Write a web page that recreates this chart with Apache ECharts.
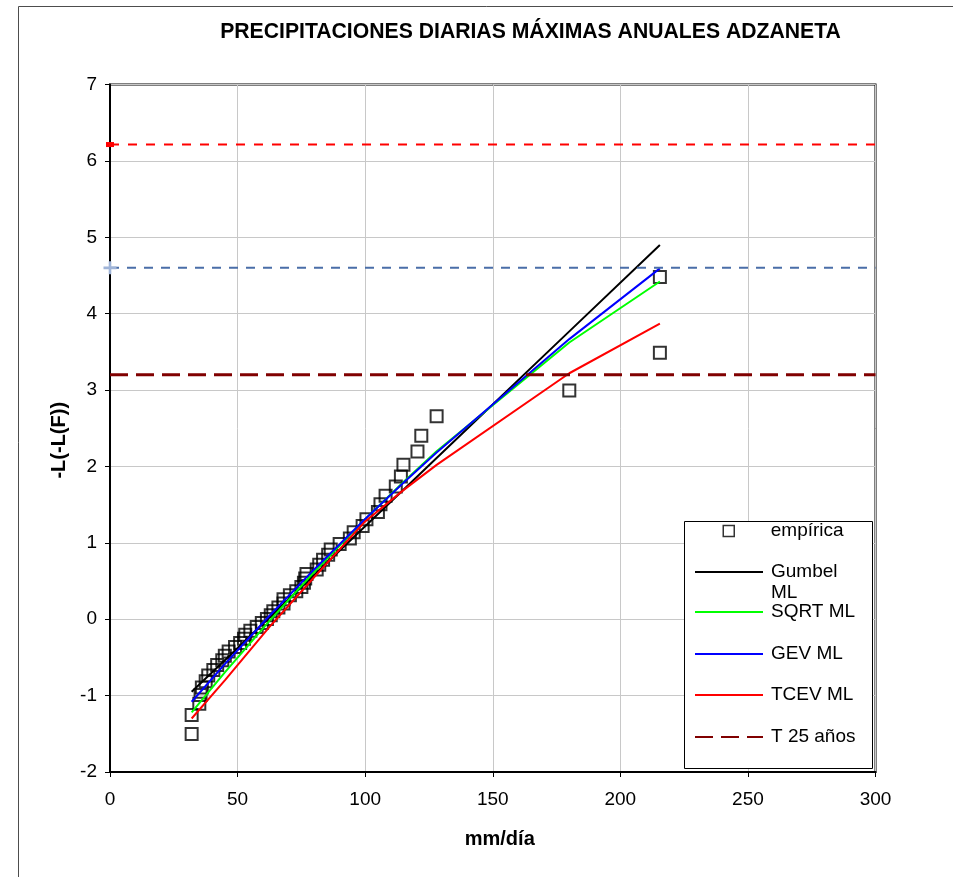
<!DOCTYPE html>
<html>
<head>
<meta charset="utf-8">
<title>Precipitaciones diarias máximas anuales - Adzaneta</title>
<script src="https://cdn.jsdelivr.net/npm/echarts@6/dist/echarts.min.js"></script>
<style>
  html, body { margin: 0; padding: 0; background: #ffffff; }
  #chart { width: 953px; height: 877px; }
</style>
</head>
<body>
<div id="chart"></div>
<script>
// ---- Texts ----
const chartTitle = 'PRECIPITACIONES DIARIAS MÁXIMAS ANUALES ADZANETA';
const xAxisName = 'mm/día';
const yAxisName = '-L(-L(F))';

// ---- Axis ticks ----
const xTicks = [0, 50, 100, 150, 200, 250, 300];
const yTicks = [-2, -1, 0, 1, 2, 3, 4, 5, 6, 7];

// ---- Empirical sample: annual maximum daily rainfall (mm/día) and reduced variate ----
const empX = [32, 32, 35, 35.5, 36, 37.5, 38.5, 40.5, 42, 44,
              45, 46.5, 49, 51, 52.5, 53, 55, 57.5, 59.5, 61.5,
              63, 64, 66, 68, 68, 70.5, 73, 75, 76, 76.5,
              77, 81, 82, 83.5, 85.5, 86.5, 90, 94, 95.5, 99,
              100.5, 105, 106, 108, 112, 114, 115, 120.5, 122, 128,
              180, 215.5, 215.5];
const empY = [-1.501, -1.254, -1.105, -0.991, -0.895, -0.812, -0.736, -0.666, -0.600, -0.538,
              -0.478, -0.421, -0.365, -0.310, -0.257, -0.204, -0.152, -0.101, -0.050, 0.002,
              0.053, 0.104, 0.155, 0.207, 0.260, 0.313, 0.367, 0.421, 0.477, 0.534,
              0.592, 0.652, 0.714, 0.778, 0.844, 0.912, 0.984, 1.058, 1.137, 1.220,
              1.309, 1.403, 1.504, 1.615, 1.736, 1.870, 2.021, 2.196, 2.403, 2.658,
              2.994, 3.489, 4.479];

// ---- Fitted distributions (maximum likelihood) ----
const fitX     = [32, 45, 62.5, 80, 100, 115, 128, 180, 215.5];
const gumbelY  = [-0.95, -0.536, 0.022, 0.580, 1.218, 1.696, 2.110, 3.768, 4.900];
const sqrtY    = [-1.22, -0.697, -0.022, 0.618, 1.308, 1.796, 2.199, 3.623, 4.421];
const gevY     = [-1.08, -0.588, 0.046, 0.652, 1.313, 1.787, 2.184, 3.667, 4.593];
const tcevY    = [-1.30, -0.80, -0.10, 0.55, 1.28, 1.69, 2.02, 3.22, 3.87];

// ---- Return period reference levels (reduced variate) ----
const levelX = [0, 300];
const t25Y  = 3.199;
const t100Y = 4.600;
const t500Y = 6.214;

const FONT = "'Liberation Sans', Arial, Helvetica, sans-serif";

function pairs(xs, ys) { return xs.map((x, i) => [x, ys[i]]); }

const chart = echarts.init(document.getElementById('chart'), null, { renderer: 'canvas' });

// Legend frame and entry geometry
const LEG = { x: 684, y: 521, w: 188, h: 247, iconLeft: 694, iconW: 68, textLeft: 770 };
const textPadLeft = LEG.textLeft - (LEG.iconLeft + LEG.iconW + 5);

// One legend component per entry so every row sits at its own height.
// Line entries hide the default marker dot that ECharts adds to line icons.
function lineLegend(name, centerY, extra) {
  return Object.assign({
    data: [name],
    orient: 'vertical',
    left: LEG.iconLeft,
    top: centerY - 10,
    padding: 0,
    itemWidth: LEG.iconW,
    itemHeight: 11,
    itemGap: 0,
    selectedMode: false,
    z: 10,
    itemStyle: { color: 'rgba(0,0,0,0)', borderWidth: 0, opacity: 0 },
    textStyle: {
      fontFamily: FONT, fontSize: 19, color: '#000', lineHeight: 20,
      padding: [0, 0, 0, textPadLeft]
    }
  }, extra || {});
}

const squareSize = 11;
const squareLeft = LEG.iconLeft + LEG.iconW / 2 - squareSize / 2;

const option = {
  animation: false,
  backgroundColor: '#ffffff',
  grid: {
    left: 110, right: 77.5, top: 84.5, bottom: 105,
    show: true, borderColor: '#000', borderWidth: 2, backgroundColor: 'transparent'
  },
  xAxis: {
    type: 'value',
    min: xTicks[0], max: xTicks[xTicks.length - 1], interval: xTicks[1] - xTicks[0],
    name: xAxisName, nameLocation: 'middle', nameGap: 57,
    nameTextStyle: { fontFamily: FONT, fontSize: 20, fontWeight: 'bold', color: '#000', padding: [0, 0, 0, 14] },
    axisLine: { show: true, onZero: false, lineStyle: { color: '#000', width: 2 } },
    axisTick: { show: true, inside: false, length: 5, lineStyle: { color: '#000', width: 1 } },
    axisLabel: { fontFamily: FONT, fontSize: 19, color: '#000', margin: 18 },
    splitLine: { show: true, lineStyle: { color: '#c8c8c8', width: 1 } }
  },
  yAxis: {
    type: 'value',
    min: yTicks[0], max: yTicks[yTicks.length - 1], interval: yTicks[1] - yTicks[0],
    name: yAxisName, nameLocation: 'middle', nameGap: 38, nameRotate: 90,
    nameTextStyle: { fontFamily: FONT, fontSize: 20, fontWeight: 'bold', color: '#000', padding: [0, 24, 0, 0] },
    axisLine: { show: true, onZero: false, lineStyle: { color: '#000', width: 2 } },
    axisTick: { show: true, inside: false, length: 5, lineStyle: { color: '#000', width: 1 } },
    axisLabel: { fontFamily: FONT, fontSize: 19, color: '#000', margin: 13 },
    splitLine: { show: true, lineStyle: { color: '#c8c8c8', width: 1 } }
  },
  legend: [
    {
      data: [{ name: 'empírica', icon: 'rect' }],
      orient: 'vertical',
      left: squareLeft,
      top: 531 - 10,
      padding: 0,
      itemWidth: squareSize,
      itemHeight: squareSize,
      itemGap: 0,
      selectedMode: false,
      z: 10,
      itemStyle: { color: 'rgba(0,0,0,0)', borderColor: '#000', borderWidth: 1.5 },
      textStyle: {
        fontFamily: FONT, fontSize: 19, color: '#000', lineHeight: 20,
        padding: [0, 0, 0, LEG.textLeft - (squareLeft + squareSize + 5)]
      }
    },
    // Wrapped label: a blank leading line keeps "Gumbel" level with the line icon
    lineLegend('Gumbel ML', 572, {
      top: 572 - 31.5,
      formatter: function () { return ' \nGumbel\nML'; },
      textStyle: {
        fontFamily: FONT, fontSize: 19, color: '#000', lineHeight: 21,
        padding: [0, 0, 0, textPadLeft]
      }
    }),
    lineLegend('SQRT ML', 612),
    lineLegend('GEV ML', 654),
    lineLegend('TCEV ML', 695),
    lineLegend('T 25 años', 737)
  ],
  graphic: [
    {
      type: 'rect', z: -10, silent: true,
      shape: { x: 18.5, y: 6.5, width: 1000, height: 1000 },
      style: { fill: 'none', stroke: '#4d4d4d', lineWidth: 1 }
    },
    {
      type: 'text', z: 10, silent: true,
      x: 530.5, y: 32,
      style: {
        text: chartTitle, fill: '#000',
        font: 'bold 21.2px ' + FONT,
        textAlign: 'center', textVerticalAlign: 'middle'
      }
    },
    {
      type: 'rect', z: 5, silent: true,
      shape: { x: LEG.x + 0.5, y: LEG.y + 0.5, width: LEG.w, height: LEG.h },
      style: { fill: '#ffffff', stroke: '#000', lineWidth: 1 }
    }
  ],
  series: [
    {
      name: 'empírica', type: 'scatter', z: 2,
      data: pairs(empX, empY),
      symbol: 'rect', symbolSize: 12,
      itemStyle: { color: 'rgba(0,0,0,0)', borderColor: '#000', borderWidth: 2 }
    },
    {
      name: 'Gumbel ML', type: 'line', z: 3, data: pairs(fitX, gumbelY),
      symbol: 'none', lineStyle: { color: '#000000', width: 2 }, itemStyle: { color: '#000000' }
    },
    {
      name: 'SQRT ML', type: 'line', z: 3, data: pairs(fitX, sqrtY),
      symbol: 'none', lineStyle: { color: '#00ff00', width: 2 }, itemStyle: { color: '#00ff00' }
    },
    {
      name: 'GEV ML', type: 'line', z: 3, data: pairs(fitX, gevY),
      symbol: 'none', lineStyle: { color: '#0000ff', width: 2 }, itemStyle: { color: '#0000ff' }
    },
    {
      name: 'TCEV ML', type: 'line', z: 3, data: pairs(fitX, tcevY),
      symbol: 'none', lineStyle: { color: '#ff0000', width: 2 }, itemStyle: { color: '#ff0000' }
    },
    {
      name: 'T 25 años', type: 'line', z: 3,
      data: levelX.map(x => [x, t25Y]),
      symbol: 'none', lineStyle: { color: '#800000', width: 3, type: [18, 8] }, itemStyle: { color: '#800000' }
    },
    {
      name: 'T 100 años', type: 'line', z: 3, clip: false,
      data: [
        { value: [levelX[0], t100Y], symbol: 'path://M4,0L6,0L6,4L10,4L10,6L6,6L6,10L4,10L4,6L0,6L0,4L4,4Z', symbolSize: 13 },
        { value: [levelX[1], t100Y], symbol: 'none' }
      ],
      showSymbol: true,
      lineStyle: { color: '#4a6ea8', width: 2, type: [9, 8] },
      itemStyle: { color: '#9fb4d8' }
    },
    {
      name: 'T 500 años', type: 'line', z: 3, clip: false,
      data: [
        { value: [levelX[0], t500Y], symbol: 'rect', symbolSize: [8, 5] },
        { value: [levelX[1], t500Y], symbol: 'none' }
      ],
      showSymbol: true,
      lineStyle: { color: '#ff0000', width: 2, type: [9, 9] },
      itemStyle: { color: '#ff0000' }
    }
  ]
};

chart.setOption(option);
</script>
</body>
</html>
